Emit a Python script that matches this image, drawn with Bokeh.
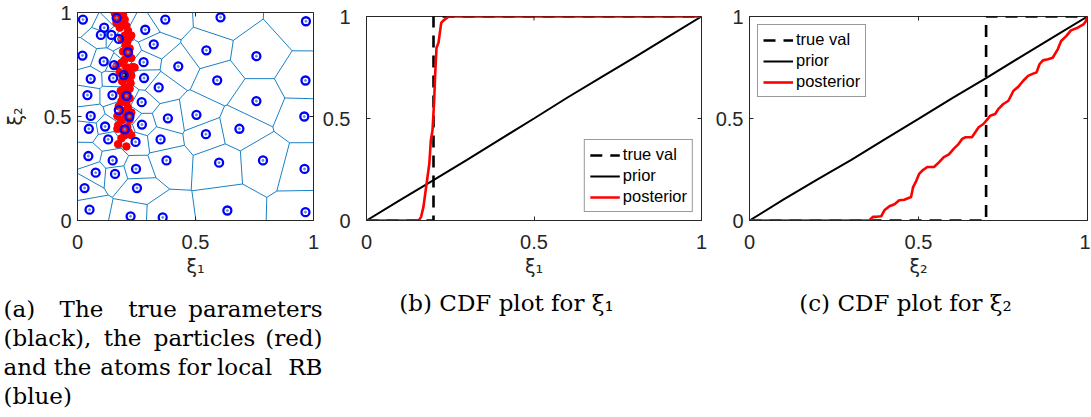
import numpy as np
from bokeh.plotting import figure
from bokeh.layouts import column, row
from bokeh.models import Range1d, FixedTicker
from bokeh.core.properties import value
from bokeh.embed import file_html
from bokeh.resources import INLINE

# ---------------- data ----------------
# atoms for local RB (blue circles / Voronoi sites)
atom_x = [0.023, 0.166, 0.372, 0.606, 0.968, 0.113, 0.287, 0.099, 0.144, 0.175,
          0.323, 0.546, 0.758, 0.021, 0.214, 0.111, 0.280, 0.155, 0.427, 0.196,
          0.056, 0.151, 0.282, 0.592, 0.966, 0.344, 0.042, 0.148, 0.208, 0.272,
          0.758, 0.175, 0.056, 0.220, 0.383, 0.504, 0.961, 0.273, 0.117, 0.048,
          0.200, 0.686, 0.544, 0.130, 0.246, 0.352, 0.046, 0.149, 0.377, 0.600,
          0.786, 0.077, 0.159, 0.248, 0.962, 0.030, 0.252, 0.051, 0.225, 0.361,
          0.635, 0.966]
atom_y = [0.966, 0.974, 0.966, 0.977, 0.958, 0.927, 0.917, 0.892, 0.892, 0.873,
          0.847, 0.818, 0.790, 0.793, 0.809, 0.765, 0.761, 0.747, 0.741, 0.699,
          0.681, 0.685, 0.685, 0.674, 0.673, 0.640, 0.603, 0.603, 0.599, 0.569,
          0.574, 0.531, 0.503, 0.500, 0.491, 0.508, 0.500, 0.461, 0.452, 0.441,
          0.438, 0.441, 0.415, 0.390, 0.378, 0.390, 0.310, 0.289, 0.289, 0.278,
          0.289, 0.230, 0.224, 0.248, 0.248, 0.156, 0.156, 0.052, 0.020, 0.015,
          0.048, 0.040]

# particles (red)
particle_x = [0.158, 0.179, 0.193, 0.172, 0.200, 0.165, 0.186, 0.207, 0.179, 0.214,
              0.200, 0.221, 0.186, 0.211, 0.228, 0.203, 0.221, 0.193, 0.214, 0.228,
              0.200, 0.186, 0.165, 0.207, 0.235, 0.242, 0.221, 0.179, 0.200, 0.228,
              0.214, 0.189, 0.225, 0.200, 0.221, 0.183, 0.211, 0.193, 0.221, 0.186,
              0.207, 0.175, 0.214, 0.193, 0.228, 0.169, 0.203, 0.186, 0.221, 0.172,
              0.211, 0.193, 0.217, 0.169, 0.200, 0.228, 0.186, 0.172, 0.207]
particle_y = [0.997, 0.990, 0.989, 0.974, 0.966, 0.951, 0.943, 0.935, 0.927, 0.912,
              0.889, 0.881, 0.873, 0.858, 0.889, 0.843, 0.827, 0.812, 0.796, 0.781,
              0.773, 0.758, 0.742, 0.735, 0.738, 0.735, 0.719, 0.711, 0.696, 0.696,
              0.681, 0.670, 0.660, 0.642, 0.634, 0.623, 0.611, 0.596, 0.588, 0.573,
              0.565, 0.549, 0.542, 0.526, 0.519, 0.503, 0.495, 0.480, 0.485, 0.457,
              0.449, 0.434, 0.426, 0.441, 0.410, 0.410, 0.395, 0.367, 0.356]

# true parameters (xi_1, xi_2)
true_xi = [0.2, 0.7]

# CDFs
prior_x = [0.0, 0.1, 0.2, 0.3, 0.4, 0.5, 0.6, 0.7, 0.8, 0.9, 1.0]
prior1_y = [0.0, 0.100, 0.198, 0.297, 0.399, 0.500, 0.603, 0.702, 0.800, 0.900, 1.0]
prior2_y = [0.0, 0.102, 0.200, 0.296, 0.398, 0.498, 0.600, 0.698, 0.800, 0.900, 1.0]

post1_x = [0.0, 0.156, 0.163, 0.170, 0.178, 0.1875, 0.192, 0.197, 0.202, 0.205,
           0.209, 0.215, 0.223, 0.229, 0.246, 1.0]
post1_y = [0.0, 0.0, 0.018, 0.067, 0.164, 0.278, 0.392, 0.441, 0.587, 0.717,
           0.847, 0.872, 0.969, 0.980, 1.0, 1.0]

post2_x = [0.0, 0.354, 0.365, 0.375, 0.390, 0.399, 0.414, 0.429, 0.443, 0.458,
           0.478, 0.484, 0.492, 0.502, 0.512, 0.526, 0.546, 0.561, 0.575, 0.590,
           0.604, 0.619, 0.629, 0.639, 0.658, 0.668, 0.678, 0.692, 0.705, 0.712,
           0.727, 0.736, 0.751, 0.766, 0.781, 0.795, 0.810, 0.824, 0.839, 0.849,
           0.858, 0.868, 0.883, 0.897, 0.912, 0.922, 0.937, 0.951, 0.971, 0.988,
           0.995, 1.0]
post2_y = [0.0, 0.0, 0.018, 0.018, 0.021, 0.050, 0.070, 0.080, 0.099, 0.102,
           0.115, 0.164, 0.189, 0.229, 0.246, 0.262, 0.262, 0.286, 0.311, 0.324,
           0.351, 0.376, 0.400, 0.408, 0.408, 0.433, 0.457, 0.473, 0.498, 0.514,
           0.522, 0.546, 0.571, 0.587, 0.636, 0.655, 0.685, 0.709, 0.720, 0.725,
           0.766, 0.785, 0.790, 0.798, 0.839, 0.880, 0.904, 0.932, 0.945, 0.961,
           0.977, 1.0]

tick_vals = [0, 0.5, 1]
tick_text = {0: "0", 0.5: "0.5", 1: "1"}

legend_labels = ["true val", "prior", "posterior"]

caption_a = [["(a)", "The", "true", "parameters"],
             ["(black),", "the", "particles", "(red)"],
             ["and", "the", "atoms", "for", "local", "RB"],
             ["(blue)"]]
caption_b = "(b) CDF plot for \u03be\u2081"
caption_c = "(c) CDF plot for \u03be\u2082"

# ---------------- styling helpers ----------------
AX = "#262626"
TICK_FONT = "Liberation Sans"


def style(p, y_standoff, xlabel, ylabel=None):
    p.grid.visible = False
    p.outline_line_color = AX
    p.outline_line_width = 1
    p.background_fill_color = "white"
    for ax in list(p.xaxis) + list(p.yaxis):
        ax.ticker = FixedTicker(ticks=tick_vals)
        ax.major_label_overrides = tick_text
        ax.major_tick_in = 4
        ax.major_tick_out = 0
        ax.minor_tick_line_color = None
        ax.axis_line_color = AX
        ax.major_tick_line_color = AX
        ax.major_label_text_font = TICK_FONT
        ax.major_label_text_font_size = "20px"
        ax.major_label_text_color = AX
        ax.axis_label_text_font = "DejaVu Sans"
        ax.axis_label_text_font_size = "19px"
        ax.axis_label_text_font_style = "normal"
        ax.axis_label_text_color = AX
    p.xaxis.major_label_standoff = 14
    p.xaxis.axis_label = xlabel
    p.xaxis.axis_label_standoff = 3
    p.yaxis.major_label_standoff = y_standoff
    if ylabel:
        p.yaxis.axis_label = ylabel
        p.yaxis.axis_label_standoff = 15
    # mirrored inward ticks on the top and right edges of the box
    n = len(tick_vals)
    p.ray(x=tick_vals, y=[1] * n, length=4, angle=-np.pi / 2,
          length_units="screen", line_color=AX, line_width=1)
    p.ray(x=[1] * n, y=tick_vals, length=4, angle=np.pi,
          length_units="screen", line_color=AX, line_width=1)


# ---------------- panel (a) ----------------
def clip(poly, a, b, c):
    out = []
    n = len(poly)
    for k in range(n):
        P = poly[k]
        Q = poly[(k + 1) % n]
        fp = a * P[0] + b * P[1] - c
        fq = a * Q[0] + b * Q[1] - c
        if fp <= 0:
            out.append(P)
        if fp * fq < 0:
            t = fp / (fp - fq)
            out.append((P[0] + t * (Q[0] - P[0]), P[1] + t * (Q[1] - P[1])))
    return out


pts = np.column_stack([atom_x, atom_y])
edges = {}
for i, pi in enumerate(pts):
    poly = [(0.0, 0.0), (1.0, 0.0), (1.0, 1.0), (0.0, 1.0)]
    for j, pj in enumerate(pts):
        if i == j:
            continue
        d = pj - pi
        c = (pj @ pj - pi @ pi) / 2.0
        poly = clip(poly, d[0], d[1], c)
    for k in range(len(poly)):
        P = poly[k]
        Q = poly[(k + 1) % len(poly)]
        on_border = False
        for ax_i in (0, 1):
            for bound in (0.0, 1.0):
                if abs(P[ax_i] - bound) < 1e-9 and abs(Q[ax_i] - bound) < 1e-9:
                    on_border = True
        if on_border:
            continue
        key = tuple(sorted([(round(P[0], 6), round(P[1], 6)),
                            (round(Q[0], 6), round(Q[1], 6))]))
        if key[0] == key[1]:
            continue
        edges[key] = key

edge_xs = [[e[0][0], e[1][0]] for e in edges]
edge_ys = [[e[0][1], e[1][1]] for e in edges]

ROW_H = 285
A_SHIFT = 4   # panel (a) sits a little higher than (b) and (c)

fa = figure(width=319, height=ROW_H + A_SHIFT, x_range=Range1d(0, 1), y_range=Range1d(0, 1),
            output_backend="svg", toolbar_location=None, title=None,
            min_border_left=76, min_border_right=6, min_border_top=16,
            min_border_bottom=ROW_H - 6 - 216, margin=(-A_SHIFT, 0, 0, 0))
fa.multi_line(edge_xs, edge_ys, line_color="#0072BD", line_width=0.9)
fa.scatter(particle_x, particle_y, size=7.5, marker="circle", color="#ff0000")
fa.scatter([true_xi[0]], [true_xi[1]], size=4, marker="circle", color="black")
fa.scatter(atom_x, atom_y, size=8, marker="circle", fill_color=None,
           line_color="#0000ff", line_width=2.3)
fa.scatter(atom_x, atom_y, size=2, marker="circle", color="#5b8fd6")
style(fa, 6, "\u03be\u2081", "\u03be\u2082")


# ---------------- panels (b) and (c) ----------------
def cdf_panel(width, mb_left, mb_right, y_standoff, t, prior_y, post_x, post_y,
              loc, xlabel):
    p = figure(width=width, height=ROW_H, x_range=Range1d(0, 1), y_range=Range1d(0, 1),
               output_backend="svg", toolbar_location=None, title=None,
               min_border_left=mb_left, min_border_right=mb_right,
               min_border_top=15, min_border_bottom=ROW_H - 15 - 205)
    p.line([0, t, t, 1], [0, 0, 1, 1], line_color="black", line_width=2.6,
           line_dash="12 8", legend_label=legend_labels[0])
    p.line(prior_x, prior_y, line_color="black", line_width=2,
           legend_label=legend_labels[1])
    p.line(post_x, post_y, line_color="#ff0000", line_width=2.6,
           legend_label=legend_labels[2])
    style(p, y_standoff, xlabel)
    lg = p.legend[0]
    lg.location = loc
    lg.margin = 8
    lg.padding = 5
    lg.spacing = 2
    lg.label_height = 18
    lg.glyph_height = 18
    lg.glyph_width = 30
    lg.label_standoff = 3
    lg.label_text_font = TICK_FONT
    lg.label_text_font_size = "16.5px"
    lg.label_text_color = "black"
    lg.border_line_color = "#333333"
    lg.border_line_width = 0.8
    lg.background_fill_color = "white"
    lg.background_fill_alpha = 1.0
    return p


fb = cdf_panel(392, 40, 10, 16, true_xi[0], prior1_y, post1_x, post1_y,
               "bottom_right", "\u03be\u2081")
fc = cdf_panel(379, 38, 3, 6, true_xi[1], prior2_y, post2_x, post2_y,
               "top_left", "\u03be\u2082")

# ---------------- captions ----------------
CAP_H = 127
cap = figure(width=1090, height=CAP_H, x_range=Range1d(0, 1090), y_range=Range1d(CAP_H, 0),
             output_backend="svg", toolbar_location=None, min_border=0, title=None,
             x_axis_type=None, y_axis_type=None)
cap.grid.visible = False
cap.outline_line_color = None

CAP_FONT = value("DejaVu Serif")
CAP_SIZE = "23px"
line_y = [23, 52, 81, 110]
# word centres of the justified caption (a)
word_pos = [[3, 81, 152, 322],
            [3, 122, 204, 322],
            [3, 72, 135, 194, 244, 322],
            [3]]
for li, words in enumerate(caption_a):
    for wi, w in enumerate(words):
        if wi == 0:
            align = "left"
        elif wi == len(words) - 1:
            align = "right"
        else:
            align = "center"
        cap.text([word_pos[li][wi]], [line_y[li]], text=[w], text_font=CAP_FONT,
                 text_font_size=CAP_SIZE, text_align=align,
                 text_baseline="middle", text_color="black")

cap.text([506], [17], text=[caption_b], text_font=CAP_FONT, text_font_size=CAP_SIZE,
         text_align="center", text_baseline="middle", text_color="black")
cap.text([905], [17], text=[caption_c], text_font=CAP_FONT, text_font_size=CAP_SIZE,
         text_align="center", text_baseline="middle", text_color="black")

layout = column(row(fa, fb, fc), cap)
open("out.html", "w").write(file_html(layout, INLINE, "plot"))
